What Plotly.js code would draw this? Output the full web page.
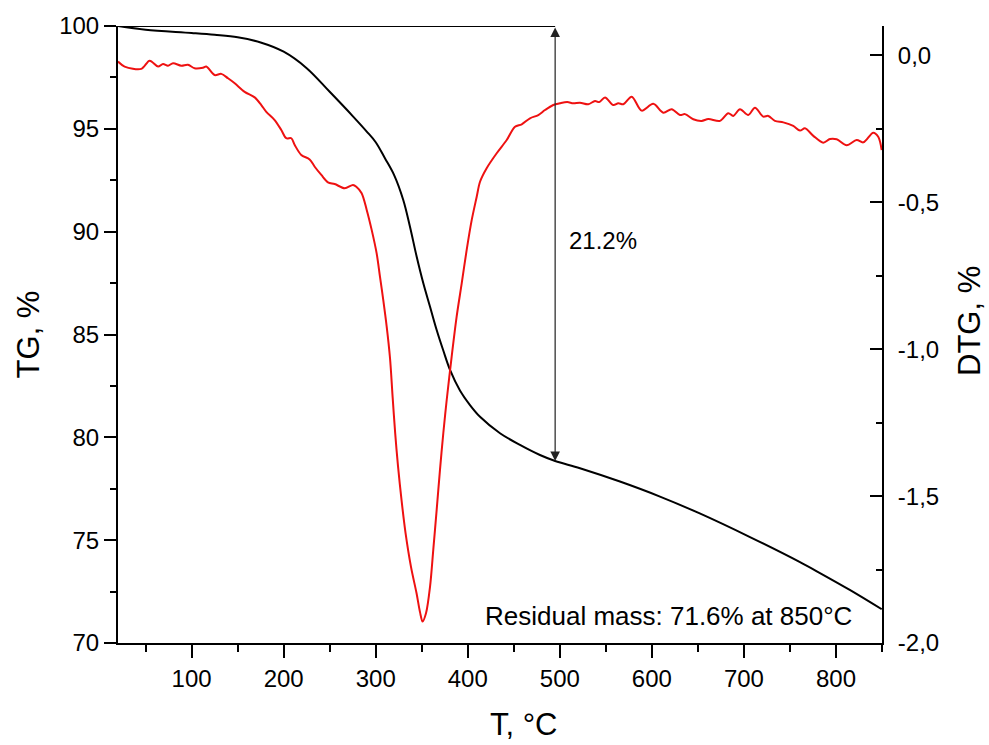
<!DOCTYPE html>
<html>
<head>
<meta charset="utf-8">
<script src="https://cdn.plot.ly/plotly-3.0.1.min.js"></script>
<style>html,body{margin:0;padding:0;background:#fff;}#chart{width:989px;height:745px;}</style>
</head>
<body>
<div id="chart"></div>
<script>
// TG curve (black), temperature in °C, mass in %
const tgT = [20, 50, 100, 125, 150, 175, 200, 225, 250, 275, 290, 300, 310, 320, 329.9, 337.2, 344.5, 351.7, 359, 366.2, 373.4, 380.7, 391.5, 402.4, 413.3, 435, 456.7, 478.4, 494.9, 521.9, 565.3, 608.8, 652, 706.6, 760.9, 782.6, 815, 849.7];
const tgVal = [100, 99.82, 99.66, 99.57, 99.45, 99.2, 98.75, 97.95, 96.8, 95.62, 94.88, 94.35, 93.57, 92.75, 91.54, 90.24, 88.78, 87.49, 86.35, 85.22, 84.22, 83.28, 82.28, 81.57, 81.0, 80.2, 79.63, 79.14, 78.85, 78.5, 77.85, 77.12, 76.3, 75.15, 73.93, 73.4, 72.58, 71.64];

// DTG curve (red), %
const dtgT = [20, 27.2, 45.3, 54.4, 63.5, 68.9, 74.3, 79.8, 88.8, 96, 103.3, 112.3, 115.9, 125, 132.2, 139.5, 146.8, 157.6, 168.5, 175.7, 181.1, 190.2, 197.4, 202.8, 208.3, 212, 219.1, 228.2, 233.7, 240.9, 248.1, 255.4, 266.3, 275.3, 278.9, 284.7, 290.2, 295.6, 301.0, 304.6, 308.2, 311.9, 315.5, 318.4, 321.1, 324.2, 328, 332.4, 338.3, 344.3, 348.1, 350.9, 354.6, 359, 362.5, 366.2, 369.8, 373.4, 377.1, 382.5, 387.9, 393.4, 398.8, 404.3, 409.7, 413.3, 420.5, 431.4, 442.3, 451.3, 458.6, 467.6, 476.6, 483.9, 492.9, 500.2, 508.1, 514.6, 521.9, 530.9, 538.2, 542.8, 549.1, 558.1, 563.5, 569, 578.1, 588.9, 601.5, 612.4, 621.5, 630.5, 636, 645, 654, 661.3, 674, 683, 688.4, 695.7, 704.7, 712, 721, 726.5, 733.7, 742.8, 753.6, 760.9, 766.3, 775.4, 786.2, 793.5, 800.8, 811.6, 822.5, 829.7, 840.5, 845.9, 849.7];
const dtgVal = [-0.021, -0.038, -0.046, -0.018, -0.038, -0.029, -0.035, -0.027, -0.035, -0.032, -0.044, -0.042, -0.038, -0.067, -0.063, -0.078, -0.095, -0.124, -0.143, -0.169, -0.192, -0.220, -0.254, -0.282, -0.282, -0.305, -0.339, -0.354, -0.379, -0.407, -0.432, -0.438, -0.452, -0.441, -0.447, -0.469, -0.526, -0.594, -0.674, -0.753, -0.833, -0.923, -1.03, -1.165, -1.285, -1.398, -1.513, -1.626, -1.741, -1.83, -1.895, -1.927, -1.899, -1.808, -1.683, -1.547, -1.411, -1.286, -1.173, -1.025, -0.889, -0.776, -0.662, -0.560, -0.481, -0.430, -0.384, -0.333, -0.288, -0.243, -0.2345, -0.214, -0.203, -0.186, -0.169, -0.163, -0.159, -0.163, -0.161, -0.1665, -0.155, -0.159, -0.143, -0.169, -0.163, -0.1665, -0.1405, -0.188, -0.165, -0.195, -0.1835, -0.203, -0.2, -0.2175, -0.223, -0.2165, -0.223, -0.197, -0.206, -0.1835, -0.203, -0.178, -0.2085, -0.206, -0.223, -0.228, -0.24, -0.256, -0.248, -0.274, -0.297, -0.2845, -0.2855, -0.306, -0.288, -0.296, -0.263, -0.277, -0.322];

// Right axis tick labels (comma decimal)
const dtgTickVals = [0, -0.5, -1, -1.5, -2];
const dtgTickText = ['0,0', '-0,5', '-1,0', '-1,5', '-2,0'];
const dtgMinorVals = [-0.25, -0.75, -1.25, -1.75];

// Annotation values
const lossT = 494.9;
const lossTop = 100;
const lossBottom = 78.85;
const lossLabel = '21.2%';
const residualLabel = 'Residual mass: 71.6% at 850°C';
const xTitle = 'T, °C';
const yTitle = 'TG, %';
const y2Title = 'DTG, %';

const FONT = 'Liberation Sans, Arial, Helvetica, sans-serif';

const traces = [
  {x: tgT, y: tgVal, type: 'scatter', mode: 'lines', line: {color: '#000', width: 2, shape: 'spline', smoothing: 1}, yaxis: 'y', hoverinfo: 'skip'},
  {x: dtgT, y: dtgVal, type: 'scatter', mode: 'lines', line: {color: '#ee1111', width: 2, shape: 'spline', smoothing: 0.9}, yaxis: 'y2', hoverinfo: 'skip'}
];

const layout = {
  width: 989, height: 745,
  margin: {l: 118, r: 107, t: 26, b: 102},
  paper_bgcolor: '#fff', plot_bgcolor: '#fff',
  showlegend: false,
  font: {family: FONT, color: '#000', size: 24},
  xaxis: {
    range: [20, 850], tick0: 0, dtick: 100, ticks: 'outside', ticklen: 13, tickwidth: 2, tickcolor: '#000',
    showline: true, linewidth: 2, linecolor: '#000', showgrid: false, zeroline: false,
    minor: {tick0: 50, dtick: 100, ticks: 'outside', ticklen: 7, tickwidth: 2, tickcolor: '#000'},
    tickfont: {size: 24, family: FONT},
    automargin: false
  },
  yaxis: {
    range: [70, 100], tick0: 70, dtick: 5, ticks: 'outside', ticklen: 12, tickwidth: 2, tickcolor: '#000',
    showline: true, linewidth: 2, linecolor: '#000', showgrid: false, zeroline: false,
    minor: {tick0: 72.5, dtick: 5, ticks: 'outside', ticklen: 6, tickwidth: 2, tickcolor: '#000'},
    tickfont: {size: 24, family: FONT},
    title: {text: yTitle, font: {size: 31, family: FONT}, standoff: 10},
    automargin: false
  },
  yaxis2: {
    overlaying: 'y', side: 'right', range: [-2, 0.1],
    tickmode: 'array', tickvals: dtgTickVals, ticktext: dtgTickText,
    ticks: 'inside', ticklen: 12, tickwidth: 2, tickcolor: '#000',
    showline: true, linewidth: 2, linecolor: '#000', showgrid: false, zeroline: false,
    minor: {tickmode: 'array', tickvals: dtgMinorVals, ticks: 'inside', ticklen: 6, tickwidth: 2, tickcolor: '#000'},
    tickfont: {size: 24, family: FONT},
    ticklabelstandoff: 9,
    automargin: false
  },
  shapes: [
    {type: 'line', xref: 'x', yref: 'y', x0: 20, x1: lossT, y0: lossTop, y1: lossTop, line: {color: '#000', width: 2}}
  ],
  annotations: [
    {xref: 'x', yref: 'y', x: lossT, y: lossBottom, axref: 'x', ayref: 'y', ax: lossT, ay: lossTop,
     text: '', showarrow: true, arrowside: 'end+start', arrowhead: 2, arrowsize: 1.6, arrowwidth: 1.2, arrowcolor: '#222', standoff: 0, startstandoff: 0},
    {xref: 'x', yref: 'y', x: 507.8, y: 89.55, text: lossLabel, showarrow: false, xanchor: 'left', yanchor: 'middle', font: {size: 24, family: FONT, color: '#000'}},
    {xref: 'x', yref: 'y', x: 819.6, y: 71.32, text: residualLabel, showarrow: false, xanchor: 'right', yanchor: 'middle', font: {size: 26, family: FONT, color: '#000'}},
    {xref: 'paper', yref: 'paper', x: 0.5314, y: -0.1329, text: xTitle, showarrow: false, xanchor: 'center', yanchor: 'middle', font: {size: 31, family: FONT, color: '#000'}},
    {xref: 'paper', yref: 'paper', x: 1.1152, y: 0.5219, text: y2Title, textangle: -90, showarrow: false, xanchor: 'center', yanchor: 'middle', font: {size: 31, family: FONT, color: '#000'}}
  ]
};

Plotly.newPlot('chart', traces, layout, {staticPlot: true, displayModeBar: false});
</script>
</body>
</html>
